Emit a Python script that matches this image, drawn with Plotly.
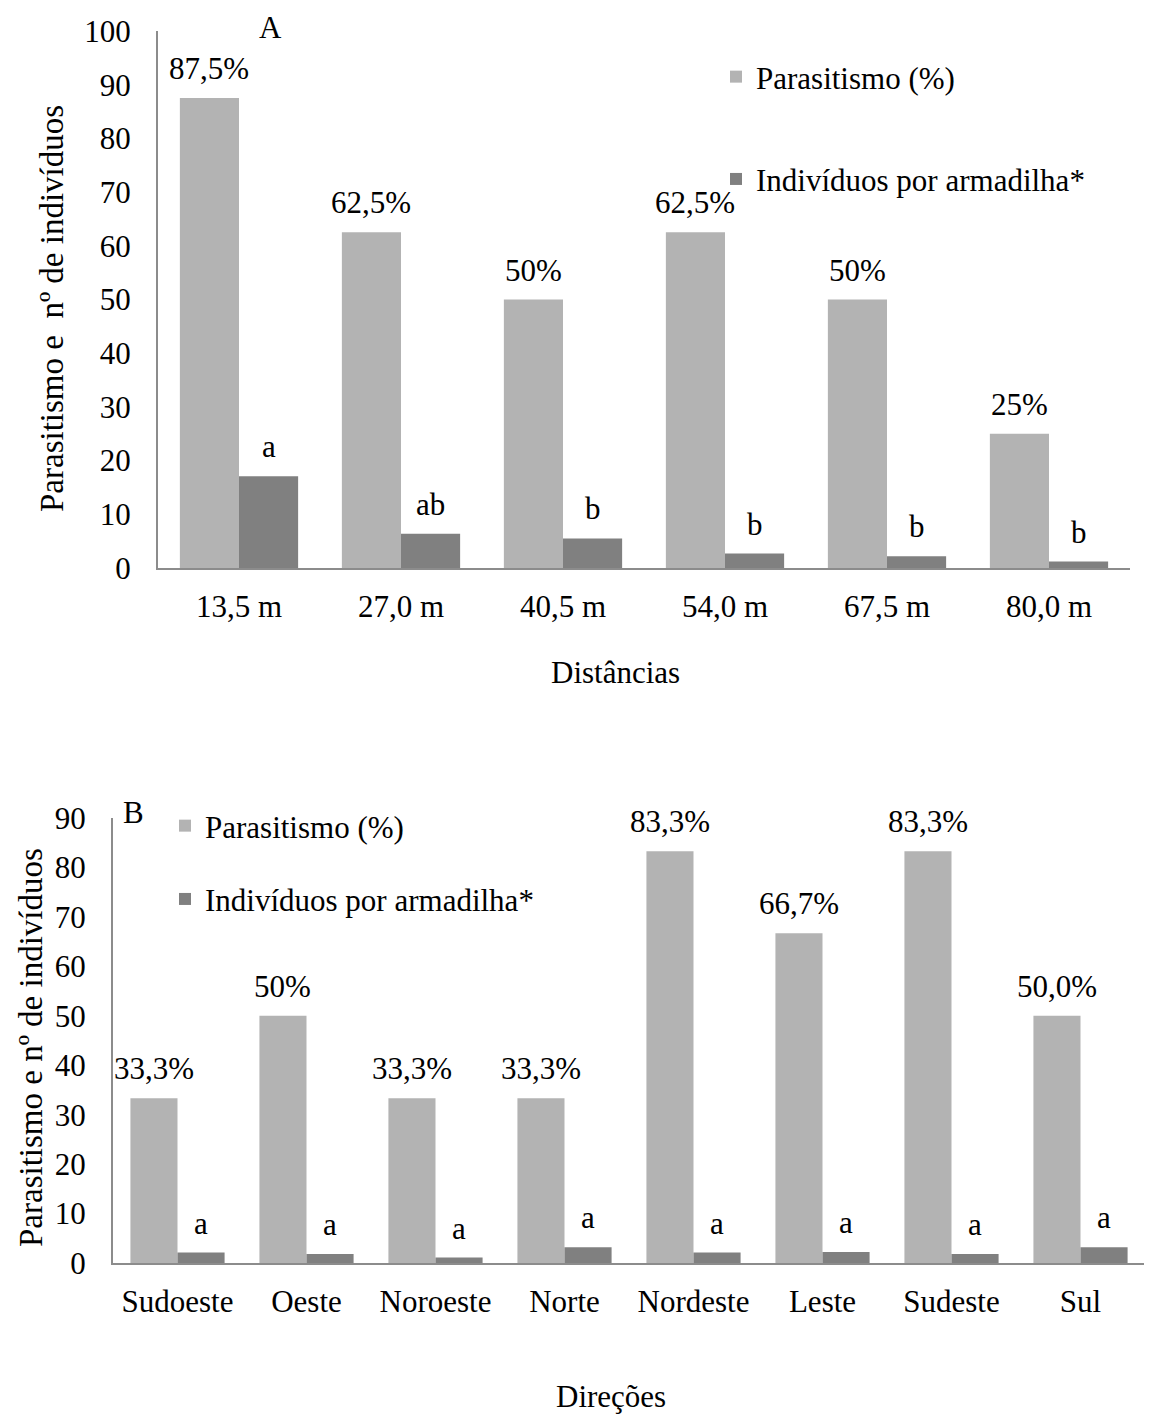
import plotly.graph_objects as go

W, H = 1152, 1415

dist_cats = ["13,5 m", "27,0 m", "40,5 m", "54,0 m", "67,5 m", "80,0 m"]
dist_paras = [87.5, 62.5, 50, 62.5, 50, 25]
dist_paras_lbl = ["87,5%", "62,5%", "50%", "62,5%", "50%", "25%"]
dist_ind = [17.1, 6.4, 5.5, 2.7, 2.2, 1.2]
dist_ind_lbl = ["a", "ab", "b", "b", "b", "b"]

dir_cats = ["Sudoeste", "Oeste", "Noroeste", "Norte", "Nordeste", "Leste", "Sudeste", "Sul"]
dir_paras = [33.3, 50, 33.3, 33.3, 83.3, 66.7, 83.3, 50.0]
dir_paras_lbl = ["33,3%", "50%", "33,3%", "33,3%", "83,3%", "66,7%", "83,3%", "50,0%"]
dir_ind = [2.1, 1.8, 1.1, 3.2, 2.1, 2.2, 1.8, 3.2]
dir_ind_lbl = ["a"] * 8

LIGHT = "#b3b3b3"
DARK = "#808080"
AXC = "#8c8c8c"
FONT = "Liberation Serif"
FS = 31
GAP = 0.27
BW = (1 - GAP) / 2  # width of one bar in category units
OFF = 8  # page body margin


def X(p):
    return (p - OFF) / W


def Y(p):
    return 1 - (p - OFF) / H


fig = go.Figure()
axfont = dict(family=FONT, size=FS, color="black")


def add_panel(cats, paras, paras_lbl, ind, ind_lbl, xa, ya, legend):
    idx = list(range(len(cats)))
    fig.add_trace(go.Bar(
        x=idx, y=paras, width=BW, offset=-BW, name="Parasitismo (%)",
        marker=dict(color=LIGHT, line=dict(width=0)),
        xaxis=xa, yaxis=ya, legend=legend, legendgroup=legend + "p",
    ))
    fig.add_trace(go.Bar(
        x=idx, y=ind, width=BW, offset=0, name="Indivíduos por armadilha*",
        marker=dict(color=DARK, line=dict(width=0)),
        xaxis=xa, yaxis=ya, legend=legend, legendgroup=legend + "i",
    ))
    for i in idx:
        fig.add_annotation(x=i - BW / 2, y=paras[i], text=paras_lbl[i], xref=xa, yref=ya,
                           showarrow=False, yanchor="bottom", yshift=10, font=axfont)
        fig.add_annotation(x=i + BW / 2, y=ind[i], text=ind_lbl[i], xref=xa, yref=ya,
                           showarrow=False, yanchor="bottom", yshift=10, font=axfont)


add_panel(dist_cats, dist_paras, dist_paras_lbl, dist_ind, dist_ind_lbl, "x", "y", "legend")
add_panel(dir_cats, dir_paras, dir_paras_lbl, dir_ind, dir_ind_lbl, "x2", "y2", "legend2")


def xaxis(cats, dom, anchor):
    return dict(domain=dom, anchor=anchor, type="linear", range=[-0.5, len(cats) - 0.5],
                tickvals=list(range(len(cats))), ticktext=cats,
                showgrid=False, zeroline=False, showline=True, linecolor=AXC, linewidth=2,
                ticks="outside", ticklen=10, tickcolor="rgba(0,0,0,0)", tickfont=axfont,
                automargin=False, fixedrange=True)


def yaxis(top, dom, anchor):
    return dict(domain=dom, anchor=anchor, range=[0, top], dtick=10,
                showgrid=False, zeroline=False, showline=True, linecolor=AXC, linewidth=2,
                ticks="outside", ticklen=19, tickcolor="rgba(0,0,0,0)", tickfont=axfont,
                automargin=False, fixedrange=True)


fig.update_layout(
    width=W, height=H,
    margin=dict(l=0, r=0, t=0, b=0, autoexpand=False),
    paper_bgcolor="white", plot_bgcolor="white",
    barmode="overlay",
    font=dict(family=FONT, size=FS, color="black"),
    xaxis=xaxis(dist_cats, [X(158), X(1130)], "y"),
    yaxis=yaxis(100, [Y(568), Y(31)], "x"),
    xaxis2=xaxis(dir_cats, [X(113), X(1145)], "y2"),
    yaxis2=yaxis(90, [Y(1263), Y(818)], "x2"),
    legend=dict(x=X(716), y=Y(50), xanchor="left", yanchor="top", font=axfont,
                bgcolor="rgba(0,0,0,0)", tracegroupgap=59, itemwidth=30, traceorder="grouped"),
    legend2=dict(x=X(165), y=Y(799), xanchor="left", yanchor="top", font=axfont,
                 bgcolor="rgba(0,0,0,0)", tracegroupgap=30, itemwidth=30, traceorder="grouped"),
    showlegend=True,
)

ann = [
    dict(text="A", x=X(270), y=Y(27)),
    dict(text="B", x=X(133), y=Y(812)),
    dict(text="Distâncias", x=X(615), y=Y(672)),
    dict(text="Direções", x=X(611), y=Y(1396)),
    dict(text="Parasitismo e  nº de indivíduos", x=X(52), y=Y(309), textangle=-90,
         font=dict(family=FONT, size=33, color="black")),
    dict(text="Parasitismo e nº de indivíduos", x=X(31), y=Y(1048), textangle=-90,
         font=dict(family=FONT, size=33, color="black")),
]
for a in ann:
    a.setdefault("font", axfont)
    fig.add_annotation(xref="paper", yref="paper", showarrow=False,
                       xanchor="center", yanchor="middle", **a)

fig.write_html("out.html")
